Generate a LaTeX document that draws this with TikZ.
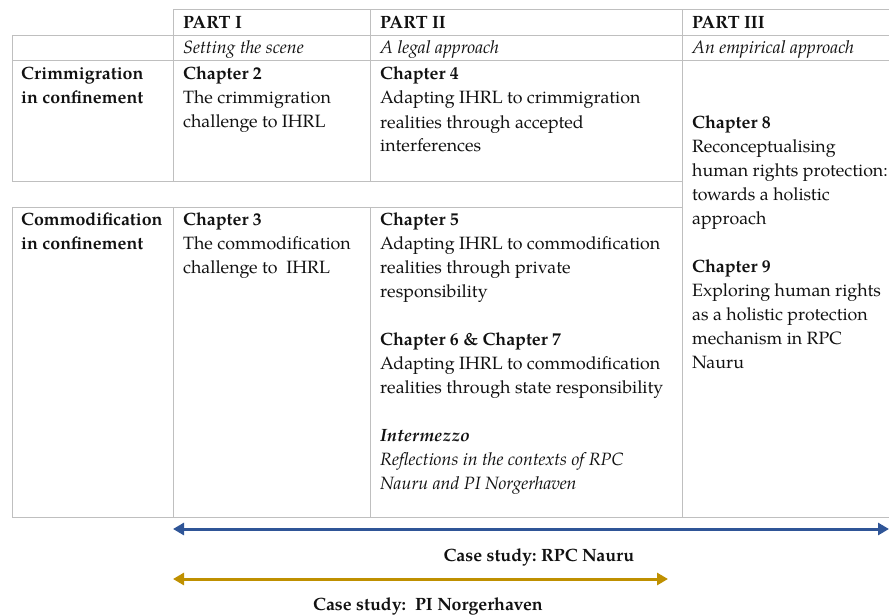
\documentclass[tikz,border=0pt]{standalone}
\usepackage{fontspec}
\setmainfont{TeX Gyre Pagella}
\usetikzlibrary{arrows.meta}
\definecolor{gridgray}{HTML}{BFBFBF}
\definecolor{caseblue}{HTML}{2F5597}
\definecolor{casegold}{HTML}{BF9000}
\definecolor{txt}{HTML}{111111}
\newcommand{\cellfont}{\fontsize{17.8}{24}\selectfont\frenchspacing}
\begin{document}
\begin{tikzpicture}[x=1pt,y=-1pt,
  grid/.style={draw=gridgray,line width=1pt},
  cell/.style={anchor=base west,inner sep=0pt,align=left,text=txt,font=\cellfont},
  caselabel/.style={anchor=base,inner sep=0pt,text=txt,font=\cellfont\bfseries},
  bluearrow/.style={draw=caseblue,line width=3pt,{Triangle[length=11pt,width=12pt]}-{Triangle[length=11pt,width=12pt]}},
  goldarrow/.style={draw=casegold,line width=3pt,{Triangle[length=11pt,width=12pt]}-{Triangle[length=11pt,width=12pt]}}
]
\useasboundingbox (0,0) rectangle (889,615);
% grid
\draw[grid] (173,10) -- (889,10);
\draw[grid] (12,36) -- (889,36);
\draw[grid] (12,61) -- (889,61);
\draw[grid] (12,181) -- (682,181);
\draw[grid] (12,207) -- (682,207);
\draw[grid] (12,517) -- (889,517);
\draw[grid] (12,36) -- (12,181);
\draw[grid] (12,207) -- (12,517);
\draw[grid] (173,10) -- (173,181);
\draw[grid] (173,207) -- (173,517);
\draw[grid] (370,10) -- (370,181);
\draw[grid] (370,207) -- (370,517);
\draw[grid] (682,10) -- (682,517);
% headers (anchor = baseline of the last line)
\node[cell,font=\cellfont\bfseries] (p1) at (183,29) {PART I};
\node[cell,font=\cellfont\bfseries] (p2) at (380,29) {PART II};
\node[cell,font=\cellfont\bfseries] (p3) at (692,29) {PART III};
\node[cell,font=\cellfont\itshape] (s1) at (183,54) {Setting the scene};
\node[cell,font=\cellfont\itshape] (s2) at (380,54) {A legal approach};
\node[cell,font=\cellfont\itshape] (s3) at (692,54) {An empirical approach};
% row 1
\node[cell,font=\cellfont\bfseries] (r1) at (21,104) {Crimmigration\\in confinement};
\node[cell] (c2) at (183,128) {\textbf{Chapter 2}\\The crimmigration\\challenge to IHRL};
\node[cell] (c4) at (380,152) {\textbf{Chapter 4}\\Adapting IHRL to crimmigration\\realities through accepted\\interferences};
% part III
\node[cell] (c8) at (692,368) {\textbf{Chapter 8}\\Reconceptualising\\human rights protection:\\towards a holistic\\approach\\[24pt]\textbf{Chapter 9}\\Exploring human rights\\as a holistic protection\\mechanism in RPC\\Nauru};
% row 2
\node[cell,font=\cellfont\bfseries] (r2) at (21,249) {Commodification\\in confinement};
\node[cell] (c3) at (183,273) {\textbf{Chapter 3}\\The commodification\\challenge to\ \ IHRL};
\node[cell] (c5) at (380,489) {\textbf{Chapter 5}\\Adapting IHRL to commodification\\realities through private\\responsibility\\[24pt]\textbf{Chapter 6 \& Chapter 7}\\Adapting IHRL to commodification\\realities through state responsibility\\[24pt]\textbf{\textit{Intermezzo}}\\\textit{Reflections in the contexts of RPC}\\\textit{Nauru and PI Norgerhaven}};
% arrows
\coordinate (bl) at (173,529);
\coordinate (br) at (889,529);
\coordinate (gl) at (173,579);
\coordinate (gr) at (668,579);
\draw[bluearrow] (bl) -- (br);
\draw[goldarrow] (gl) -- (gr);
\node[caselabel] (cs1) at (539,561) {Case study: RPC Nauru};
\node[caselabel] (cs2) at (428,610) {Case study:\ \ PI Norgerhaven};
\end{tikzpicture}
\end{document}
